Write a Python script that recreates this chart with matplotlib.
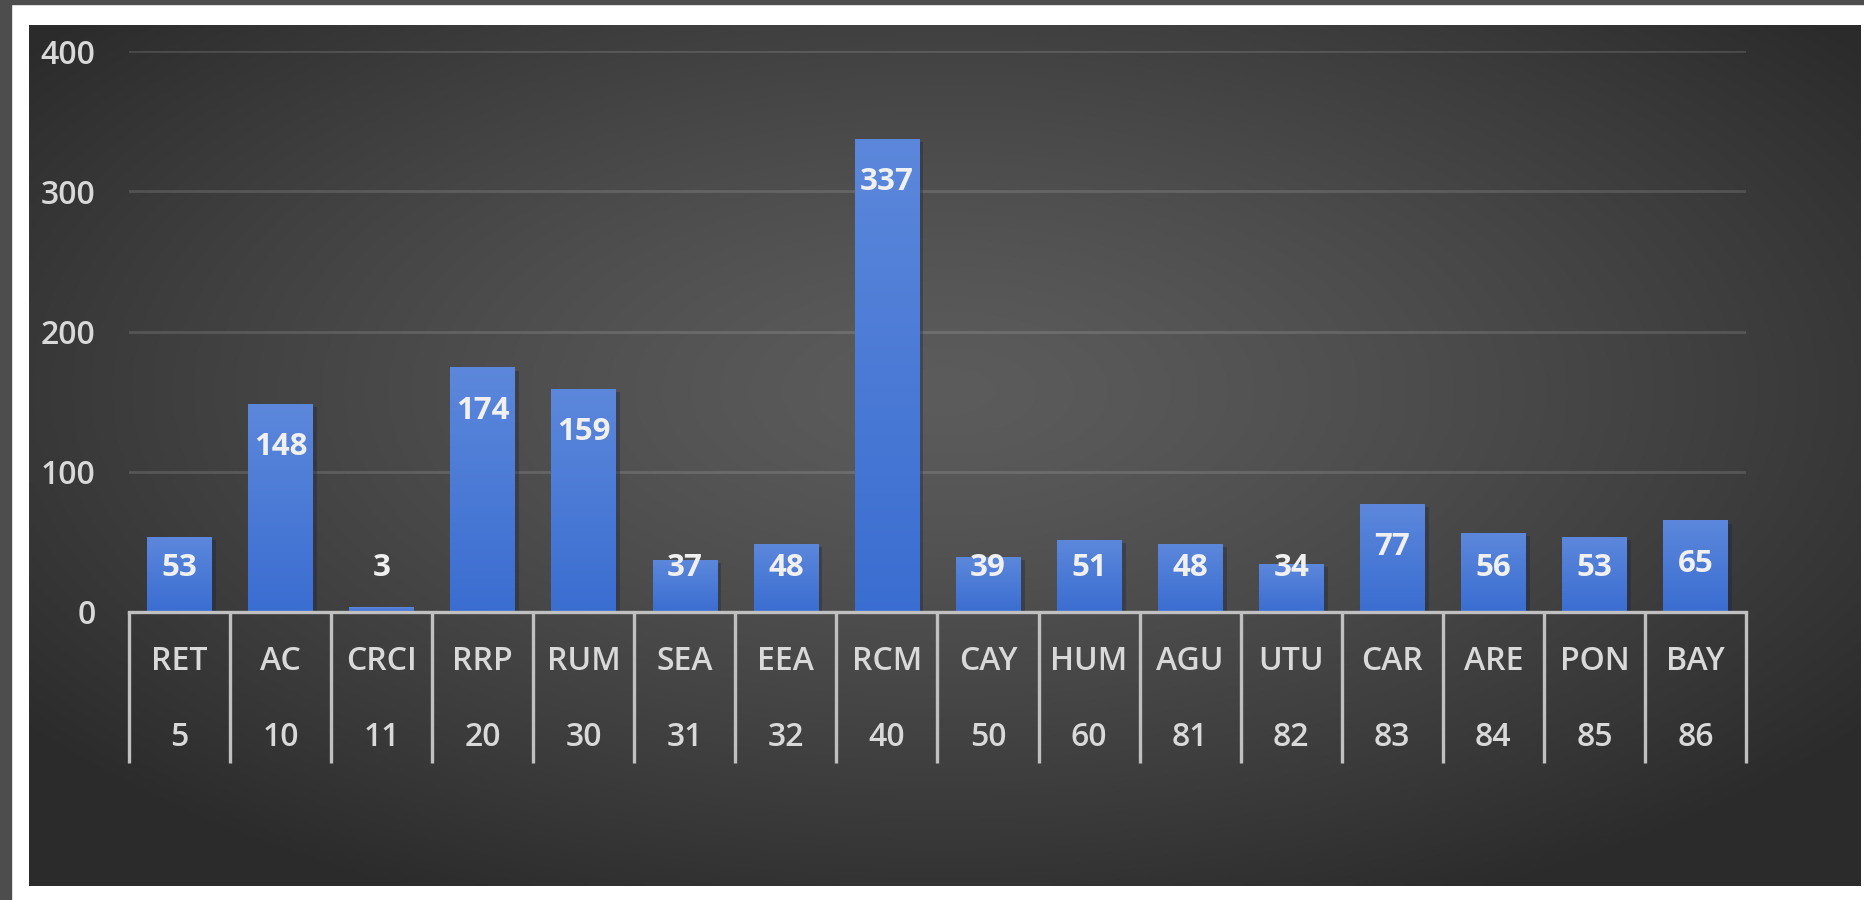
import matplotlib.pyplot as plt
import matplotlib.patheffects as pe
import numpy as np

plt.rcParams['font.family'] = ['Open Sans', 'DejaVu Sans']

codes = ['RET', 'AC', 'CRCI', 'RRP', 'RUM', 'SEA', 'EEA', 'RCM', 'CAY', 'HUM',
         'AGU', 'UTU', 'CAR', 'ARE', 'PON', 'BAY']
numbers = ['5', '10', '11', '20', '30', '31', '32', '40', '50', '60',
           '81', '82', '83', '84', '85', '86']
counts = [53, 148, 3, 174, 159, 37, 48, 337, 39, 51, 48, 34, 77, 56, 53, 65]
yticks = [0, 100, 200, 300, 400]

W, H = 1865, 900
fig = plt.figure(figsize=(W / 100, H / 100), dpi=100, facecolor='white')

# grey frame strips on left / top of the screenshot
fig.patches.append(plt.Rectangle((0, 0), 11 / W, 1, transform=fig.transFigure,
                                 color='#4d4d4d', zorder=0))
fig.patches.append(plt.Rectangle((0, 1 - 4 / H), 1, 4 / H, transform=fig.transFigure,
                                 color='#4d4d4d', zorder=0))

# dark radial gradient panel
bg = fig.add_axes([29 / W, (H - 886) / H, (1861 - 29) / W, (886 - 25) / H])
bg.set_axis_off()
gx, gy = np.meshgrid(np.linspace(-1, 1, 400), np.linspace(-1, 1, 200))
r = np.sqrt((gx / 1.05) ** 2 + ((gy + 0.15) / 1.1) ** 2)
r = np.clip(r, 0, 1.2) / 1.2
shade = 0.36 - 0.19 * r ** 1.3
bg.imshow(np.dstack([shade] * 3), aspect='auto', extent=(0, 1, 0, 1),
          interpolation='bilinear')
bg.set_xlim(0, 1)
bg.set_ylim(0, 1)

ax = fig.add_axes([129 / W, (H - 612) / H, 1617 / W, 561 / H])
ax.set_facecolor('none')
x = np.arange(len(codes))

bars = ax.bar(x, counts, width=0.64, color='#4a78d8', zorder=3,
              path_effects=[pe.SimplePatchShadow(offset=(3, -2), alpha=0.35),
                            pe.Normal()])

# vertical blue gradient on each bar
grad = np.linspace(0, 1, 100).reshape(-1, 1)
top = np.array([0.36, 0.53, 0.86])
bot = np.array([0.23, 0.43, 0.82])
img = (bot + (top - bot) * grad).reshape(100, 1, 3)
for b in bars:
    x0, w, h = b.get_x(), b.get_width(), b.get_height()
    ax.imshow(img, extent=(x0, x0 + w, 0, h), origin='lower', aspect='auto',
              zorder=4, interpolation='bilinear')

ax.set_xlim(-0.5, len(codes) - 0.5)
ax.set_ylim(0, 400)

# value labels
for xi, v in zip(x, counts):
    ax.text(xi, max(v - 30.5, 31.5), str(v), ha='center', va='center',
            color='#f0f0f0', fontsize=22.5, fontweight='bold', zorder=6)

lab = dict(fontsize=23, fontweight='semibold', color='#d9d9d9')
ax.set_yticks(yticks)
ax.set_yticklabels([str(t) for t in yticks], **lab)
ax.tick_params(axis='y', length=0, pad=24)
ax.set_xticks([])
for s in ax.spines.values():
    s.set_visible(False)
ax.grid(axis='y', color='white', alpha=0.13, lw=2, zorder=1)
ax.axhline(0, color='#c0c0c0', lw=2.4, zorder=5, clip_on=False)

# two-level category axis
tr = ax.get_xaxis_transform()
for b in np.arange(len(codes) + 1) - 0.5:
    ax.plot([b, b], [0, -0.269], color='#c0c0c0', lw=2.4, transform=tr,
            clip_on=False, solid_capstyle='butt', zorder=5)
for xi, c, n in zip(x, codes, numbers):
    ax.text(xi, -0.089, c, transform=tr, ha='center', va='center', **lab)
    ax.text(xi, -0.223, n, transform=tr, ha='center', va='center', **lab)

fig.savefig('out.png', dpi=100, facecolor='white')
